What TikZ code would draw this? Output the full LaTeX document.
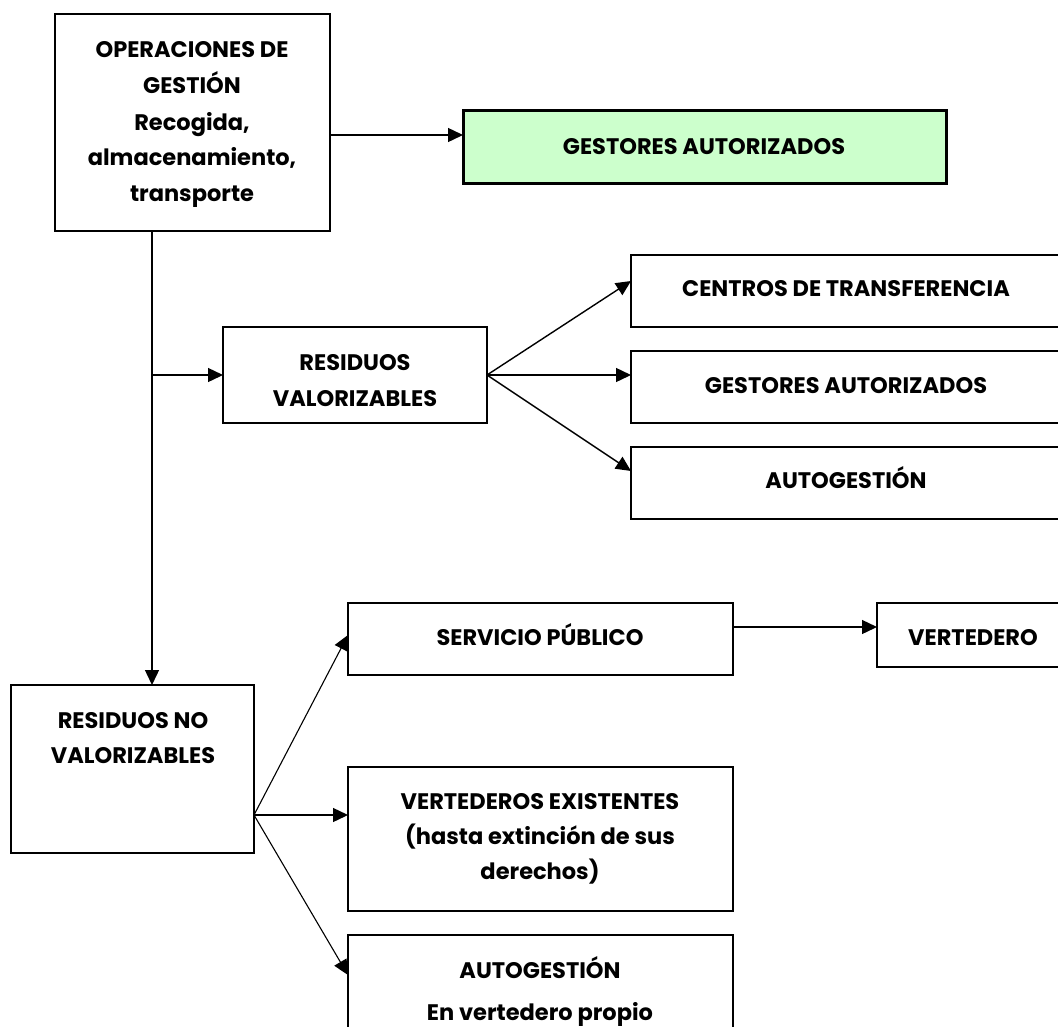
\documentclass[tikz,border=0pt]{standalone}
\usepackage{fontspec}
\setmainfont{Poppins}
\usetikzlibrary{arrows.meta,fit}
\definecolor{lgreen}{HTML}{CCFFCC}
\tikzset{
  box/.style={draw, line width=1.6pt, inner sep=0pt, outer sep=0pt},
  gbox/.style={box, line width=3pt, fill=lgreen},
  txt/.style={inner sep=0pt, anchor=base, font=\bfseries\fontsize{22.5}{22.5}\selectfont},
  arr/.style={line width=1.4pt, -{Triangle[length=15pt,width=14pt]}},
  thinarr/.style={line width=1.1pt, -{Triangle[length=15pt,width=14pt]}},
  ln/.style={line width=1.4pt}
}
\begin{document}
\begin{tikzpicture}[x=1pt,y=-1pt]
\useasboundingbox (0,0) rectangle (1058,1026);
\clip (0,0) rectangle (1058,1026);
\fill[white] (0,0) rectangle (1058,1026);
% boxes
\node[box, fit={(55,14) (330,231)}] (ops) {};
\node[gbox, fit={(463,110) (946,183)}] (gA) {};
\node[box, fit={(631,255) (1072,327)}] (cT) {};
\node[box, fit={(631,351) (1072,423)}] (gA2) {};
\node[box, fit={(631,447) (1072,519)}] (aG) {};
\node[box, fit={(223,327) (487,423)}] (rV) {};
\node[box, fit={(348,603) (733,675)}] (sP) {};
\node[box, fit={(877,603) (1070,667)}] (vT) {};
\node[box, fit={(11,685) (254,853)}] (rNV) {};
\node[box, fit={(348,767) (733,911)}] (vE) {};
\node[box, fit={(348,935) (733,1070)}] (aG2) {};
% texts
\node[txt] (t1) at (192,57) {OPERACIONES DE};
\node[txt] (t2) at (192,93) {GESTIÓN};
\node[txt] (t3) at (192,130) {Recogida,};
\node[txt] (t4) at (192,165) {almacenamiento,};
\node[txt] (t5) at (192,201) {transporte};
\node[txt] (t6) at (704,154) {GESTORES AUTORIZADOS};
\node[txt] (t7) at (846,296) {CENTROS DE TRANSFERENCIA};
\node[txt] (t8) at (846,393) {GESTORES AUTORIZADOS};
\node[txt] (t9) at (846,488) {AUTOGESTIÓN};
\node[txt] (t10) at (355,370) {RESIDUOS};
\node[txt] (t11) at (355,406) {VALORIZABLES};
\node[txt] (t12) at (540,645) {SERVICIO PÚBLICO};
\node[txt] (t13) at (973,645) {VERTEDERO};
\node[txt] (t14) at (133,728) {RESIDUOS NO};
\node[txt] (t15) at (133,763) {VALORIZABLES};
\node[txt] (t16) at (540,809) {VERTEDEROS EXISTENTES};
\node[txt] (t17) at (540,844) {(hasta extinción de sus};
\node[txt] (t18) at (540,879) {derechos)};
\node[txt] (t19) at (540,978) {AUTOGESTIÓN};
\node[txt] (t20) at (540,1020) {En vertedero propio};
% helper coordinates
\coordinate (vx) at (152,0);
\coordinate (y135) at (0,135);
\coordinate (y281) at (0,281);
\coordinate (y471) at (0,471);
\coordinate (y815) at (0,815);
\coordinate (y635) at (0,635);
\coordinate (y975) at (0,975);
\coordinate (y627) at (0,627);
% connectors
\draw[arr] (ops.east |- y135) -- (gA.west |- y135);
\draw[arr] (ops.south -| vx) -- (rNV.north -| vx);
\draw[arr] (vx |- rV.west) -- (rV.west);
\draw[arr] (rV.east) -- (cT.west |- y281);
\draw[arr] (rV.east) -- (gA2.west |- rV.east);
\draw[arr] (rV.east) -- (aG.west |- y471);
\draw[thinarr] (rNV.east |- y815) -- (sP.west |- y635);
\draw[arr] (rNV.east |- y815) -- (vE.west |- y815);
\draw[thinarr] (rNV.east |- y815) -- (aG2.west |- y975);
\draw[arr] (sP.east |- y627) -- (vT.west |- y627);
\end{tikzpicture}
\end{document}
